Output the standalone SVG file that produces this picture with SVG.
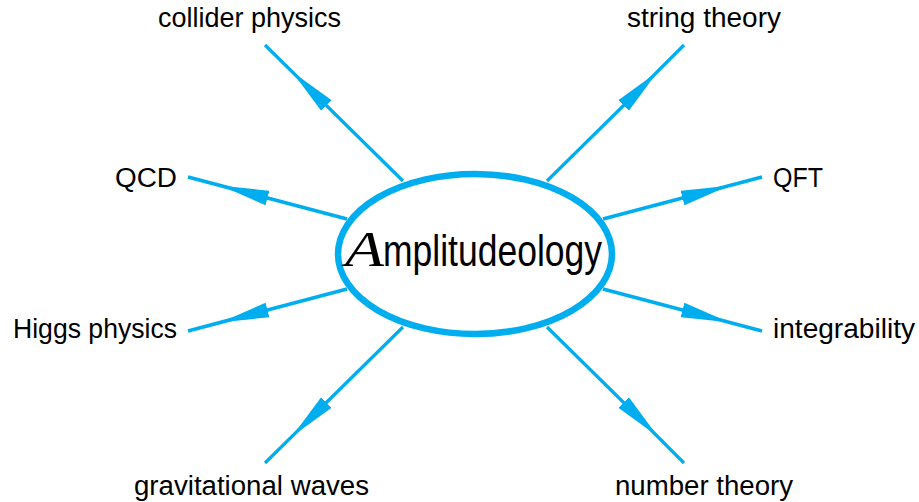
<svg xmlns="http://www.w3.org/2000/svg" width="919" height="502" viewBox="0 0 919 502">
  <style>
    .lbl { font-family: "Liberation Sans", Arial, sans-serif; font-size: 27px; fill: #000; }
    .main { font-family: "Liberation Sans", Arial, sans-serif; font-size: 44px; fill: #000; }
    .cal { font-family: "Liberation Serif", "Times New Roman", serif; font-style: italic; font-size: 50px; fill: #000; }
    .conn { fill: none; stroke: #00AEEF; stroke-linecap: butt; marker-mid: url(#head); }
    .diag { stroke-width: 3.2; }
    .horiz { stroke-width: 3.8; }
    .hub { fill: #fff; stroke: #00AEEF; stroke-width: 6.5; }
  </style>
  <defs>
    <marker id="head" markerUnits="userSpaceOnUse" viewBox="0 -8 49 16" refX="0" refY="0" markerWidth="49" markerHeight="16" orient="auto">
      <path d="M0,-7.5 L48,0 L0,7.5 Z" fill="#00AEEF"/>
    </marker>
  </defs>
  <rect width="919" height="502" fill="#fff"/>
  <g id="connectors">
    <path class="conn diag" d="M403,181 L326.4,105.5 L265,45"/>
    <path class="conn diag" d="M547,181 L623.6,105.5 L684,45"/>
    <path class="conn horiz" d="M347,219 L267.5,198 L188,177"/>
    <path class="conn horiz" d="M603,219 L682.5,198 L762,177"/>
    <path class="conn horiz" d="M347,289 L267.5,310 L188,331"/>
    <path class="conn horiz" d="M603,289 L682.5,310 L762,331"/>
    <path class="conn diag" d="M403,327 L326.4,402.5 L265,463"/>
    <path class="conn diag" d="M547,327 L623.6,402.5 L684,463"/>
  </g>
  <g id="amplitudeology">
    <ellipse class="hub" cx="475" cy="254" rx="137" ry="80"/>
    <text y="266"><tspan class="cal" x="345" textLength="39" lengthAdjust="spacingAndGlyphs">A</tspan><tspan class="main" x="383" textLength="219" lengthAdjust="spacingAndGlyphs">mplitudeology</tspan></text>
  </g>
  <g id="collider-physics"><text class="lbl" x="158" y="27" textLength="183" lengthAdjust="spacingAndGlyphs">collider physics</text></g>
  <g id="string-theory"><text class="lbl" x="627" y="27" textLength="154" lengthAdjust="spacingAndGlyphs">string theory</text></g>
  <g id="qcd"><text class="lbl" x="115" y="187" textLength="62" lengthAdjust="spacingAndGlyphs">QCD</text></g>
  <g id="qft"><text class="lbl" x="773" y="187" textLength="50" lengthAdjust="spacingAndGlyphs">QFT</text></g>
  <g id="higgs-physics"><text class="lbl" x="13" y="337.5" textLength="164" lengthAdjust="spacingAndGlyphs">Higgs physics</text></g>
  <g id="integrability"><text class="lbl" x="773" y="337.5" textLength="142" lengthAdjust="spacingAndGlyphs">integrability</text></g>
  <g id="gravitational-waves"><text class="lbl" x="134" y="495" textLength="235" lengthAdjust="spacingAndGlyphs">gravitational waves</text></g>
  <g id="number-theory"><text class="lbl" x="615" y="495" textLength="178" lengthAdjust="spacingAndGlyphs">number theory</text></g>
</svg>
